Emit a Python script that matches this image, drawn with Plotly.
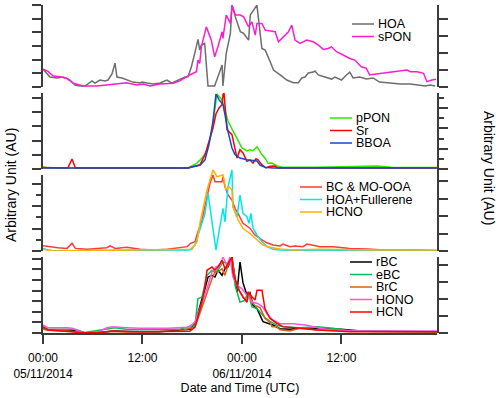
import numpy as np
import pandas as pd
import plotly.graph_objects as go

# time axis : hours since 05/11/2014 00:00 (UTC)
t0 = pd.Timestamp('2014-11-05 00:00')

def when(hours):
    return t0 + pd.to_timedelta(np.asarray(hours, dtype=float), unit='h')

# PANEL 1 : HOA, sPON
t_hoa = [0, 0.84, 1.69, 2.41, 3.26, 3.86, 4.46, 5.07, 5.91, 6.27, 6.87, 7.48, 7.84, 8.32, 8.68, 8.92, 9.53,
         10.13, 10.85, 11.70, 11.94, 12.54, 13.27, 14.11, 14.95, 15.56, 16.28, 17.13, 17.49, 17.9, 18.3, 18.7,
         18.9, 19.1, 19.5, 19.9, 20.7, 21.6, 21.7, 22.1, 22.6, 22.8, 23.2, 23.8, 24.2, 24.8, 25.0, 25.8, 26.4,
         26.8, 27.4, 27.8, 28.6, 29.4, 30.2, 30.8, 31.2, 31.6, 32.0, 32.6, 32.8, 33.2, 34.0, 34.8, 35.2, 36.0,
         36.6, 37.0, 37.4, 38.2, 39.0, 39.8, 40.6, 41.8, 43.1, 44.3, 45.5, 46.1, 46.7, 47.3]
hoa = [1.31, 0.73, 0.66, 0.73, 0.51, 0.15, 0.07, 0.07, 0.44, 0.29, 0.51, 0.44, 0.51, 0.95, 1.75, 0.73, 0.66,
       0.51, 0.36, 0.29, 0.36, 0.29, 0.22, 0.29, 0.51, 0.29, 0.51, 0.73, 0.75, 1.48, 2.46, 3.48,
       2.70, 3.07, 3.19, 0.07, 0.07, 1.61, 0.07, 2.46, 3.92, 5.99, 5.13, 4.04, 3.92, 3.43, 5.26, 5.99, 2.82,
       2.70, 1.85, 1.24, 0.88, 0.51, 0.31, 0.31, 0.66, 0.73, 1.02, 1.09, 1.17, 0.88, 0.73, 0.58, 0.73, 0.51,
       0.88, 1.09, 0.66, 0.73, 0.58, 0.66, 0.36, 0.29, 0.22, 0.22, 0.15, 0.07, 0.15, 0.07]

t_spon = [0.04, 0.64, 1.24, 2.05, 2.85, 3.65, 4.86, 6.47, 7.68, 8.88, 10.1, 11.3, 12.1, 12.9, 14.1, 15.7, 16.5,
          17.7, 18.5, 18.7, 18.9, 19.1, 19.7, 20.3, 20.7, 21.1, 21.6, 21.7, 22.1, 22.6, 22.8, 23.2, 23.8, 24.2,
          24.8, 25.2, 25.6, 25.8, 26.4, 26.8, 27.4, 28.0, 28.4, 28.8, 29.6, 30.0, 30.4, 31.0, 31.8, 32.6, 33.2,
          33.8, 34.4, 34.8, 35.4, 36.2, 37.0, 37.6, 38.4, 39.0, 39.4, 40.2, 41.2, 42.1, 43.1, 43.9, 44.3, 45.1,
          45.9, 46.3, 46.9, 47.4]
spon = [1.31, 1.12, 0.80, 0.75, 0.64, 0.27, 0.07, 0.07, 0.15, 0.22, 0.31, 0.15, 0.22, 0.07, 0.22, 0.27, 0.45,
        0.88, 1.12, 1.97, 1.73, 2.94, 4.40, 3.43, 2.21, 2.94, 4.04, 3.55, 5.26, 4.65, 5.99, 5.26, 5.26, 5.13,
        4.40, 4.77, 3.80, 4.65, 4.65, 4.16, 4.11, 4.04, 3.31, 3.55, 4.04, 4.53, 3.43, 3.19, 3.43, 3.31, 3.07,
        2.75, 2.82, 2.94, 2.58, 2.34, 2.09, 1.97, 1.48, 1.36, 0.88, 0.95, 1.04, 1.12, 1.17, 1.24, 1.12, 1.12,
        1.00, 0.39, 0.51, 0.56]

# PANEL 2 : pPON, Sr, BBOA
t_ppon = [0, 0.6, 17.5, 18.57, 19.18, 19.78, 20.38, 20.74, 20.98, 21.59, 21.95, 22.31, 22.91, 23.52, 24.0,
          24.6, 24.96, 25.33, 25.81, 26.41, 26.77, 27.14, 27.62, 28.22, 28.94, 33.0, 38.0, 40.28, 42.0, 47.5]
ppon = [0.15, 0.07, 0.07, 0.42, 0.77, 1.27, 2.68, 4.30, 5.28, 4.88, 4.08, 3.38, 2.68, 1.97, 1.48,
        1.27, 1.36, 1.29, 1.57, 1.0, 0.77, 0.40, 0.42, 0.21, 0.12, 0.12, 0.15, 0.21, 0.12, 0.10]

t_sr = [0, 3.0, 3.5, 3.9, 17.5, 18.93, 19.54, 19.9, 20.5, 20.86, 21.23, 21.59, 21.71, 21.83, 21.95, 22.19,
        22.79, 23.16, 23.4, 23.76, 24.12, 24.6, 24.96, 25.33, 25.69, 25.93, 26.41, 26.89, 27.38, 27.98, 28.3,
        29.0, 47.5]
sr = [0.1, 0.07, 0.7, 0.07, 0.07, 0.3, 1.01, 1.71, 2.89, 3.87, 4.30, 4.53, 5.23, 5.35, 4.53, 2.77,
      2.42, 1.48, 0.77, 1.36, 1.13, 0.54, 0.63, 0.42, 0.73, 0.65, 0.30, 0.07, 0.19, 0.21, 0.07,
      0.07, 0.07]

t_bboa = [0, 17.5, 18.33, 18.93, 19.54, 20.02, 20.5, 20.86, 21.23, 21.71, 21.95, 22.31, 22.79, 23.16, 23.76,
          24.6, 25.81, 26.17, 26.77, 27.74, 47.5]
bboa = [0.07, 0.07, 0.19, 0.26, 0.65, 1.71, 3.36, 5.28, 4.88, 4.53, 3.82, 2.65, 1.48, 1.01, 0.77,
        0.65, 0.56, 0.28, 0.12, 0.07, 0.07]

# PANEL 3 : BC & MO-OOA, HOA+Fullerene, HCNO
t_bcmo = [0, 0.6, 1.8, 2.9, 3.5, 3.9, 5.3, 7.7, 8.1, 8.7, 10.1, 11.7, 13.3, 15.0, 17.4, 17.8, 18.33, 18.69,
          19.18, 19.78, 20.14, 20.5, 20.74, 21.59, 21.71, 21.95, 22.31, 22.79, 23.16, 23.52, 24.12, 24.96,
          25.57, 26.41, 27.01, 27.74, 28.58, 28.94, 29.79, 30.39, 31.36, 31.84, 32.56, 33.41, 35.0, 37.0,
          39.1, 41.0, 45.1, 47.5]
bcmo = [0.3, 0.25, 0.19, 0.15, 0.44, 0.15, 0.1, 0.19, 0.29, 0.15, 0.21, 0.1, 0.06, 0.1, 0.25, 0.44, 0.53, 1.1,
        1.77, 3.10, 3.87, 4.34, 3.96, 3.96, 4.25, 3.67, 3.2, 2.91, 2.44, 2.15, 1.58, 1.30,
        0.91, 0.63, 0.47, 0.34, 0.29, 0.4, 0.25, 0.29, 0.25, 0.4, 0.34, 0.25, 0.25, 0.15,
        0.11, 0.06, 0.06, 0.02]

t_hoaf = [0, 0.6, 1.2, 17.7, 18.33, 18.93, 19.54, 19.9, 20.38, 20.86, 21.23, 21.71, 21.95, 22.31, 22.79,
          22.91, 23.4, 23.76, 24.12, 24.6, 24.84, 25.08, 25.33, 25.81, 26.41, 27.01, 27.74, 28.58, 33.0, 40.0,
          47.5]
hoaf = [0.15, 0.06, 0.02, 0.06, 0.34, 1.20, 2.15, 3.30, 1.77, 0.06, 1.10, 2.44, 1.67, 3.67, 4.63,
        2.53, 1.96, 3.20, 2.15, 1.96, 1.58, 2.15, 1.30, 0.91, 0.53, 0.25, 0.10, 0.06, 0.02, 0.02,
        0.02]

t_hcno = [0, 0.6, 1.2, 17.97, 18.57, 18.93, 19.3, 19.78, 20.26, 20.5, 20.98, 21.71, 22.07, 22.43, 22.79,
          22.91, 23.52, 24.12, 24.96, 25.81, 26.53, 27.38, 28.58, 30.15, 33.04, 41.0, 47.5]
hcno = [0.1, 0.04, 0.0, 0.1, 0.53, 1.58, 2.34, 3.49, 4.25, 4.63, 4.25, 4.34, 3.49, 3.67, 3.49,
        2.53, 1.77, 1.30, 1.0, 0.63, 0.34, 0.21, 0.11, 0.06, 0.1, 0.06, 0.06]

# PANEL 4 : rBC, eBC, BrC, HONO, HCN
t_rbc = [0, 0.6, 2.0, 3.9, 5.0, 7.0, 8.5, 10.0, 12.0, 14.0, 16.5, 17.73, 18.33, 18.69, 19.18, 19.54, 19.9,
         20.38, 20.74, 21.1, 21.59, 21.95, 22.31, 22.79, 23.16, 23.4, 23.76, 24.12, 24.6, 24.96, 25.33, 25.81,
         26.53, 27.74, 28.58, 29.79, 31.0, 32.2, 34.0, 36.0, 38.0, 41.0, 44.0, 47.5]
rbc = [0.44, 0.3, 0.25, 0.25, 0.03, 0.05, 0.19, 0.15, 0.12, 0.12, 0.25, 0.35, 0.88, 1.98, 3.24, 4.18, 5.28,
       5.44, 5.28, 5.92, 5.44, 6.07, 6.23, 7.17, 5.12, 3.87, 6.7, 4.75, 3.56, 3.8, 2.6, 2.3,
       1.07, 0.75, 0.41, 0.35, 0.47, 0.47, 0.41, 0.35, 0.22, 0.16, 0.12, 0.12]

t_ebc = [0, 0.6, 2.9, 3.9, 5.0, 7.7, 8.7, 10.0, 12.0, 15.0, 16.5, 18.33, 18.69, 19.18, 19.78, 20.38, 20.74,
         21.1, 21.71, 22.31, 22.79, 23.16, 23.76, 24.36, 24.72, 25.21, 25.81, 26.77, 27.38, 28.22, 28.94, 30.99,
         33.04, 34.97, 37.02, 40.0, 47.5]
ebc = [0.47, 0.38, 0.35, 0.35, 0.05, 0.40, 0.50, 0.35, 0.30, 0.35, 0.35, 0.73, 3.24, 3.40, 5.44, 5.92, 5.75,
       5.92, 6.70, 6.54, 7.01, 4.50, 2.92, 3.08, 3.87, 2.45, 2.30, 1.45, 1.10, 0.73, 0.59, 0.50,
       0.59, 0.44, 0.22, 0.15, 0.12]

t_brc = [0, 0.6, 3.0, 5.0, 8.0, 12.0, 16.5, 18.33, 18.69, 19.18, 19.78, 20.38, 20.74, 21.1, 21.59, 21.95,
         22.31, 22.79, 23.16, 23.52, 24.12, 24.6, 24.84, 25.21, 25.57, 25.81, 26.17, 26.77, 27.38, 27.62, 28.22,
         28.58, 29.79, 30.99, 33.04, 37.0, 47.5]
brc = [0.35, 0.25, 0.20, 0.03, 0.15, 0.12, 0.20, 0.57, 1.35, 2.45, 3.87, 5.12, 5.75, 5.75, 6.07, 5.44,
       6.39, 7.01, 5.12, 4.18, 3.40, 2.92, 3.87, 2.90, 2.60, 2.50, 2.40, 1.40, 1.00, 0.60, 0.60,
       0.30, 0.20, 0.44, 0.30, 0.20, 0.12]

t_hono = [0, 0.6, 2.9, 3.5, 4.8, 6.5, 7.7, 8.4, 10.1, 11.7, 15.0, 17.5, 18.33, 18.69, 19.18, 19.78, 20.38,
          20.86, 21.35, 21.71, 22.19, 22.55, 22.91, 23.4, 24.0, 24.6, 25.21, 25.93, 26.53, 27.01, 27.74, 28.58,
          30.15, 31.84, 33.41, 34.97, 37.02, 47.5]
hono = [0.75, 0.50, 0.50, 0.44, 0.03, 0.03, 0.50, 0.59, 0.50, 0.44, 0.44, 0.54, 1.04, 1.82, 2.92, 4.18, 5.75,
        6.23, 6.39, 7.17, 6.39, 7.17, 5.28, 4.50, 4.18, 3.56, 2.92, 2.76, 2.45, 1.82, 1.20, 0.88,
        0.88, 0.73, 0.44, 0.28, 0.19, 0.19]

t_hcn = [0, 0.6, 4.8, 6.5, 8.4, 10.1, 12.0, 14.0, 16.5, 17.7, 18.33, 18.69, 19.18, 19.54, 19.78, 20.38, 20.74,
         21.1, 21.59, 21.95, 22.31, 22.79, 22.91, 23.4, 23.76, 24.12, 24.6, 24.72, 25.21, 25.57, 25.81, 26.41,
         26.77, 27.38, 28.22, 28.94, 30.99, 33.0, 37.0, 47.5]
hcn = [0.59, 0.28, 0.03, 0.03, 0.19, 0.12, 0.12, 0.12, 0.19, 0.16, 0.57, 1.51, 2.92, 4.50, 5.92, 6.23, 5.92,
       6.23, 6.86, 6.07, 6.54, 7.17, 5.75, 4.50, 3.87, 3.40, 2.92, 3.87, 3.40, 3.11, 4.03, 4.03,
       2.30, 1.37, 0.90, 0.60, 0.44, 0.28, 0.12, 0.12]

# x ticks
tick_hours = [0, 12, 24, 36]
tick_text = ['00:00<br>05/11/2014', '12:00', '00:00<br>06/11/2014', '12:00']

# (name, hours, values, colour, y axis, panel)
series = [
    ('HOA', t_hoa, hoa, '#6e6e6e', 'y', 1),
    ('sPON', t_spon, spon, '#ff1ccf', 'y', 1),
    ('pPON', t_ppon, ppon, '#2aea00', 'y2', 2),
    ('Sr', t_sr, sr, '#ff0000', 'y2', 2),
    ('BBOA', t_bboa, bboa, '#1a48c8', 'y2', 2),
    ('BC & MO-OOA', t_bcmo, bcmo, '#ff3a3a', 'y3', 3),
    ('HOA+Fullerene', t_hoaf, hoaf, '#00e6ef', 'y3', 3),
    ('HCNO', t_hcno, hcno, '#ffb000', 'y3', 3),
    ('rBC', t_rbc, rbc, '#000000', 'y4', 4),
    ('eBC', t_ebc, ebc, '#00c05a', 'y4', 4),
    ('BrC', t_brc, brc, '#d5621c', 'y4', 4),
    ('HONO', t_hono, hono, '#ff55dc', 'y4', 4),
    ('HCN', t_hcn, hcn, '#ff0000', 'y4', 4),
]

fig = go.Figure()

# empty traces so the extra (decoration) axes get drawn - added first so they sit underneath
for ax in ['y5', 'y6', 'y7', 'y8']:
    fig.add_trace(go.Scatter(x=[None], y=[None], yaxis=ax, showlegend=False, hoverinfo='skip'))

for name, t, v, col, ax, p in series:
    fig.add_trace(go.Scatter(x=when(t), y=v, mode='lines', name=name, yaxis=ax,
                             line=dict(color=col, width=1.5), showlegend=False))

AX = '#3c3c3c'

def yax(domain, top, side='left', minor=False):
    d = dict(domain=domain, range=[0, top], tick0=0, dtick=1, anchor='x', side=side, automargin=False,
             showline=True, linecolor=AX, linewidth=1.6, ticks='outside', ticklen=9, tickwidth=1.6,
             tickcolor=AX, showticklabels=False, showgrid=False, zeroline=False, fixedrange=True)
    if minor:
        d['minor'] = dict(dtick=0.5, tick0=0, ticks='outside', ticklen=5, tickwidth=1.6, tickcolor=AX)
    return d

# plot area : 5 px (top) -> 333 px (bottom), 328 px high
fig.update_layout(
    width=500, height=398,
    margin=dict(l=43, r=63, t=5, b=65, autoexpand=False),
    paper_bgcolor='white', plot_bgcolor='rgba(0,0,0,0)',
    font=dict(family='Liberation Sans, Arial, sans-serif', size=12, color='black'),
    hovermode=False,
    xaxis=dict(type='date', anchor='y4', domain=[0, 1], automargin=False,
               range=[str(t0), str(t0 + pd.Timedelta(hours=47.52))],
               tickvals=when(tick_hours), ticktext=tick_text,
               showline=True, linecolor=AX, linewidth=1.6, ticks='outside', ticklen=9, tickwidth=1.6,
               tickcolor=AX, showgrid=False, zeroline=False, tickfont=dict(size=12),
               ticklabelstandoff=4,
               title=dict(text='Date and Time (UTC)', font=dict(size=12.5), standoff=0)),
    yaxis=yax([0.75, 1.0], 6.0),
    yaxis2=yax([0.5, 0.7317], 5.35),
    yaxis3=yax([0.25, 0.5], 4.686, side='right'),
    yaxis4=yax([0.0, 0.2317], 7.17),
    yaxis5=yax([0.75, 1.0], 4.82, side='right'),
    yaxis6=yax([0.5, 0.7317], 3.74, side='right', minor=True),
    yaxis7=yax([0.25, 0.4817], 3.378, minor=True),
    yaxis8=yax([0.0, 0.2317], 4.47, side='right'),
    showlegend=False,
)

# legends drawn as line samples + labels, one block per panel
def px_x(px):
    return (px - 43) / 394

def px_y(py):
    return (333 - py) / 328

legend_pos = {1: (352, 24), 2: (330, 118), 3: (300, 187), 4: (350, 262)}
step = 12.5
shapes, annotations = [], []
for p, (lx, ly) in legend_pos.items():
    k = 0
    for name, t, v, col, ax, pp in series:
        if pp != p:
            continue
        yy = ly + k * step
        shapes.append(dict(type='line', xref='paper', yref='paper', x0=px_x(lx), x1=px_x(lx + 22),
                           y0=px_y(yy), y1=px_y(yy), line=dict(color=col, width=1.5)))
        annotations.append(dict(text=name, xref='paper', yref='paper', x=px_x(lx + 24), y=px_y(yy),
                                xanchor='left', yanchor='middle', showarrow=False, font=dict(size=12.5)))
        k += 1

annotations.append(dict(text='Arbitrary Unit (AU)', xref='paper', yref='paper', x=px_x(11), y=px_y(185),
                        xanchor='center', yanchor='middle', textangle=-90, showarrow=False,
                        font=dict(size=14)))
annotations.append(dict(text='Arbitrary Unit (AU)', xref='paper', yref='paper', x=px_x(489), y=px_y(168),
                        xanchor='center', yanchor='middle', textangle=90, showarrow=False,
                        font=dict(size=14)))

fig.update_layout(shapes=shapes, annotations=annotations)

# the page body has a default 8px margin: drop it so the figure sits at the window corner
fig.write_html('out.html', config={'displayModeBar': False},
               post_script="document.body.style.margin='0px';")
